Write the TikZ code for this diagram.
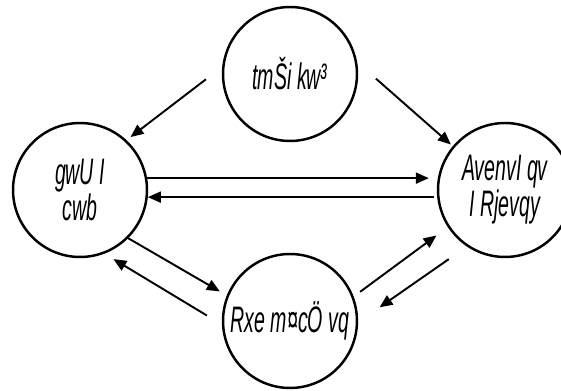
\documentclass[tikz,border=0pt]{standalone}
\usepackage{fontspec}
\newfontfamily\narrowfont{Liberation Sans}[FakeStretch=0.53]
\usetikzlibrary{arrows.meta}

\tikzset{
    stage/.style={circle, draw, line width=1.4pt, minimum size=2.68cm, inner sep=0pt,
        align=center, font=\narrowfont\itshape\fontsize{21pt}{18.5pt}\selectfont},
    flow/.style={line width=1.1pt, -{Triangle[length=0.26cm, width=0.22cm]}}
}

\begin{document}
\begin{tikzpicture}[x=0.02cm, y=-0.02cm]
    \useasboundingbox (0,0) rectangle (561,391);
    % circles
    \node[stage] (sun)   at (290,74)  {tmŠi kw³};
    \node[stage] (soil)  at (80,190)  {gwU I\\cwb};
    \node[stage] (air)   at (505,190) {AvenvI qv\\I Rjevqy};
    \node[stage] (life)  at (290,321) {Rxe m¤cÖ vq};
    % arrows
    \draw[flow, shorten <=0.41cm, shorten >=0.1cm]  (sun.174) -- (soil.47);
    \draw[flow, shorten <=0.5cm, shorten >=0.05cm]  (sun.10) -- (air.140);
    \draw[flow, shorten >=0.18cm]                   (soil.10) -- (air.170);
    \draw[flow, shorten <=0.06cm]                   (air.186) -- (soil.354);
    \draw[flow, shorten >=0.16cm]                   (soil.-45) -- (life.158);
    \draw[flow, shorten <=0.35cm, shorten >=0.21cm] (life.183) -- (soil.-69);
    \draw[flow, shorten <=0.16cm, shorten >=0.28cm] (life.21) -- (air.213);
    \draw[flow, shorten <=0.44cm, shorten >=0.52cm] (air.236) -- (life.-1);
\end{tikzpicture}
\end{document}
